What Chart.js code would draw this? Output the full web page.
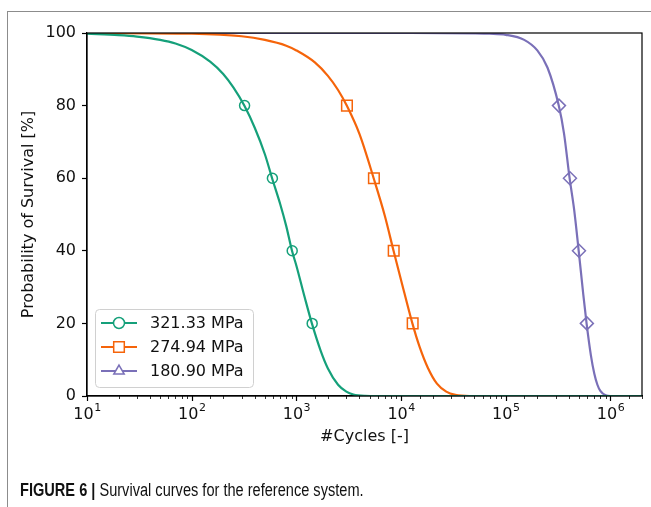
<!DOCTYPE html>
<html lang="en">
<head>
<meta charset="UTF-8">
<title>Survival curves</title>
<script src="https://cdn.jsdelivr.net/npm/chart.js@4"></script>
<style>
  body { margin: 0; background: #fff; }
  #wrap { position: relative; width: 651px; height: 507px; overflow: hidden; }
  #frame { position: absolute; left: 7px; top: 11px; right: -2px; bottom: -2px;
           border-top: 1px solid #8c8c8c; border-left: 1px solid #8c8c8c; }
  canvas { position: absolute; left: 0; top: 0; }
  #caption { position: absolute; left: 20px; top: 480px; font-family: "Liberation Sans", sans-serif;
             font-size: 18px; color: #111; white-space: nowrap;
             transform: scaleX(0.81); transform-origin: 0 0; }
  #caption b { font-weight: bold; }
</style>
</head>
<body>
<div id="wrap">
  <div id="frame"></div>
  <canvas id="survivalChart" width="651" height="507"></canvas>
  <div id="caption"><b>FIGURE 6 |</b> Survival curves for the reference system.</div>
</div>

<script>
// series (cycles vs. survival %)
const seriesLabels = ['321.33 MPa', '274.94 MPa', '180.90 MPa'];
const seriesColors = ['#15a07a', '#f5640a', '#7a70b8'];

const greenX = [10, 20, 30, 50, 70, 100, 150, 200, 250, 318, 400, 500, 586, 700, 800, 908, 1000, 1200, 1406, 1700, 2000, 2500, 3000, 3500, 4500, 6000, 2000000];
const greenY = [99.8, 99.4, 99.0, 98.1, 97.1, 95.3, 92.1, 88.7, 85.0, 80, 73.9, 66.6, 60, 52.9, 46.8, 40, 35.9, 27.2, 20, 12.6, 7.6, 3.1, 1.2, 0.4, 0.05, 0, 0];

const orangeX = [10, 100, 300, 500, 800, 1000, 1500, 2000, 2500, 3027, 4000, 5470, 7000, 8470, 10000, 12820, 15000, 18000, 22000, 27000, 33000, 45000, 2000000];
const orangeY = [100, 99.8, 99.1, 98.1, 96.5, 95.2, 91.9, 88.2, 84.3, 80, 72.2, 60, 49.6, 40, 31.9, 20, 13.6, 7.8, 3.4, 1.2, 0.3, 0, 0];

const purpleX = [10, 10000, 50000, 70000, 100000, 150000, 200000, 250000, 320600, 360000, 407000, 450000, 497000, 550000, 591000, 650000, 700000, 750000, 800000, 900000, 1000000, 2000000];
const purpleY = [100, 100, 99.9, 99.8, 99.5, 98.1, 95.2, 90.5, 80, 72.3, 60, 51.3, 40, 27.9, 20, 11.2, 6.2, 3.1, 1.4, 0.2, 0, 0];

// marker positions (at 80/60/40/20 %)
const markY = [80, 60, 40, 20];
const greenMarkX = [320, 590, 912, 1415];
const orangeMarkX = [3040, 5500, 8500, 12900];
const purpleMarkX = [322000, 410000, 500000, 595000];

const yTicks = [0, 20, 40, 60, 80, 100];
const xMajor = [10, 100, 1000, 10000, 100000, 1000000];

const curves = [[greenX, greenY], [orangeX, orangeY], [purpleX, purpleY]];
const marks = [greenMarkX, orangeMarkX, purpleMarkX];
const plotStyles = ['circle', 'rect', 'rectRot'];
const legendStyles = ['circle', 'rect', 'triangle'];
const plotRadius = [5, 7.5, 6.5];
const legendRadius = [5.5, 7.5, 6];

const zip = (xs, ys) => xs.map((x, i) => ({ x: x, y: ys[i] }));

const datasets = [];
curves.forEach((c, i) => {
    datasets.push({
        label: seriesLabels[i],
        data: zip(c[0], c[1]),
        showLine: true,
        borderColor: seriesColors[i],
        borderWidth: 2.2,
        pointRadius: 0,
        cubicInterpolationMode: 'monotone',
        fill: false,
        order: 2
    });
});
marks.forEach((m, i) => {
    datasets.push({
        label: seriesLabels[i] + ' markers',
        data: zip(m, markY),
        showLine: false,
        pointStyle: plotStyles[i],
        pointRadius: plotRadius[i],
        pointBorderWidth: 1.5,
        pointBorderColor: seriesColors[i],
        pointBackgroundColor: 'rgba(0,0,0,0)',
        order: 1
    });
});

const FONT = "'DejaVu Sans', sans-serif";

// box around plot, log ticks with 10^n labels, and the legend
const extras = {
    id: 'extras',
    afterDraw(chart) {
        const ctx = chart.ctx;
        const a = chart.chartArea;
        ctx.save();
        ctx.strokeStyle = '#000';
        ctx.lineWidth = 1.2;
        ctx.strokeRect(a.left, a.top, a.right - a.left, a.bottom - a.top);

        const xs = chart.scales.x;
        xs.ticks.forEach(t => {
            const px = Math.round(xs.getPixelForValue(t.value)) + 0.5;
            const major = xMajor.includes(t.value);
            ctx.lineWidth = major ? 1.2 : 0.8;
            ctx.beginPath();
            ctx.moveTo(px, a.bottom);
            ctx.lineTo(px, a.bottom + (major ? 5 : 3));
            ctx.stroke();
        });

        ctx.fillStyle = '#111';
        ctx.textBaseline = 'alphabetic';
        xMajor.forEach(v => {
            const px = xs.getPixelForValue(v);
            const exp = String(Math.round(Math.log10(v)));
            ctx.font = '16px ' + FONT;
            const w1 = ctx.measureText('10').width;
            ctx.font = '11px ' + FONT;
            const w2 = ctx.measureText(exp).width;
            const x0 = px - (w1 + w2) / 2;
            ctx.font = '16px ' + FONT;
            ctx.fillText('10', x0, 419);
            ctx.font = '11px ' + FONT;
            ctx.fillText(exp, x0 + w1 + 0.5, 411);
        });

        // legend
        const bx = 95, by = 309, bw = 158, bh = 78;
        ctx.fillStyle = 'rgba(255,255,255,0.85)';
        ctx.strokeStyle = '#d0d0d0';
        ctx.lineWidth = 1;
        ctx.beginPath();
        ctx.roundRect(bx + 0.5, by + 0.5, bw, bh, 4);
        ctx.fill();
        ctx.stroke();
        seriesLabels.forEach((lab, i) => {
            const yy = 323 + i * 24;
            ctx.strokeStyle = seriesColors[i];
            ctx.lineWidth = 2.2;
            ctx.beginPath();
            ctx.moveTo(101, yy);
            ctx.lineTo(137, yy);
            ctx.stroke();
            ctx.fillStyle = '#fff';
            ctx.lineWidth = 1.5;
            Chart.helpers.drawPoint(ctx, { pointStyle: legendStyles[i], radius: legendRadius[i], rotation: 0, borderWidth: 1.5 }, 119, yy);
            ctx.fillStyle = '#111';
            ctx.font = '16px ' + FONT;
            ctx.textBaseline = 'middle';
            ctx.fillText(lab, 150, yy + 1);
        });
        ctx.restore();
    }
};

const ctx = document.getElementById('survivalChart').getContext('2d');
new Chart(ctx, {
    type: 'scatter',
    data: { datasets: datasets },
    plugins: [extras],
    options: {
        responsive: false,
        animation: false,
        layout: { padding: { left: 0, top: 33, right: 6, bottom: 61 } },
        plugins: { legend: { display: false }, tooltip: { enabled: false } },
        scales: {
            x: {
                type: 'logarithmic',
                min: 10,
                max: 2000000,
                afterFit: s => { s.height = 50; },
                grid: { display: true, drawOnChartArea: false, drawTicks: false },
                border: { display: true, color: '#000', width: 1.2 },
                ticks: {
                    autoSkip: false,
                    maxRotation: 0,
                    padding: 7,
                    font: { family: FONT, size: 16 },
                    callback: () => ''
                },
                title: { display: true, text: '#Cycles [-]', color: '#111', font: { family: FONT, size: 16 }, padding: { top: 0, bottom: 0 } }
            },
            y: {
                min: 0,
                max: 100,
                afterFit: s => { s.width = 87; },
                afterBuildTicks: s => { s.ticks = yTicks.map(v => ({ value: v })); },
                grid: { display: true, drawOnChartArea: false, drawTicks: true, tickLength: 5, tickColor: '#000', tickWidth: 1.2 },
                border: { display: true, color: '#000', width: 1.2 },
                ticks: { padding: 6, color: '#111', font: { family: FONT, size: 16 } },
                title: { display: true, text: 'Probability of Survival [%]', color: '#111', font: { family: FONT, size: 16 }, padding: { top: 19, bottom: 0 } }
            }
        }
    }
});
</script>
</body>
</html>
